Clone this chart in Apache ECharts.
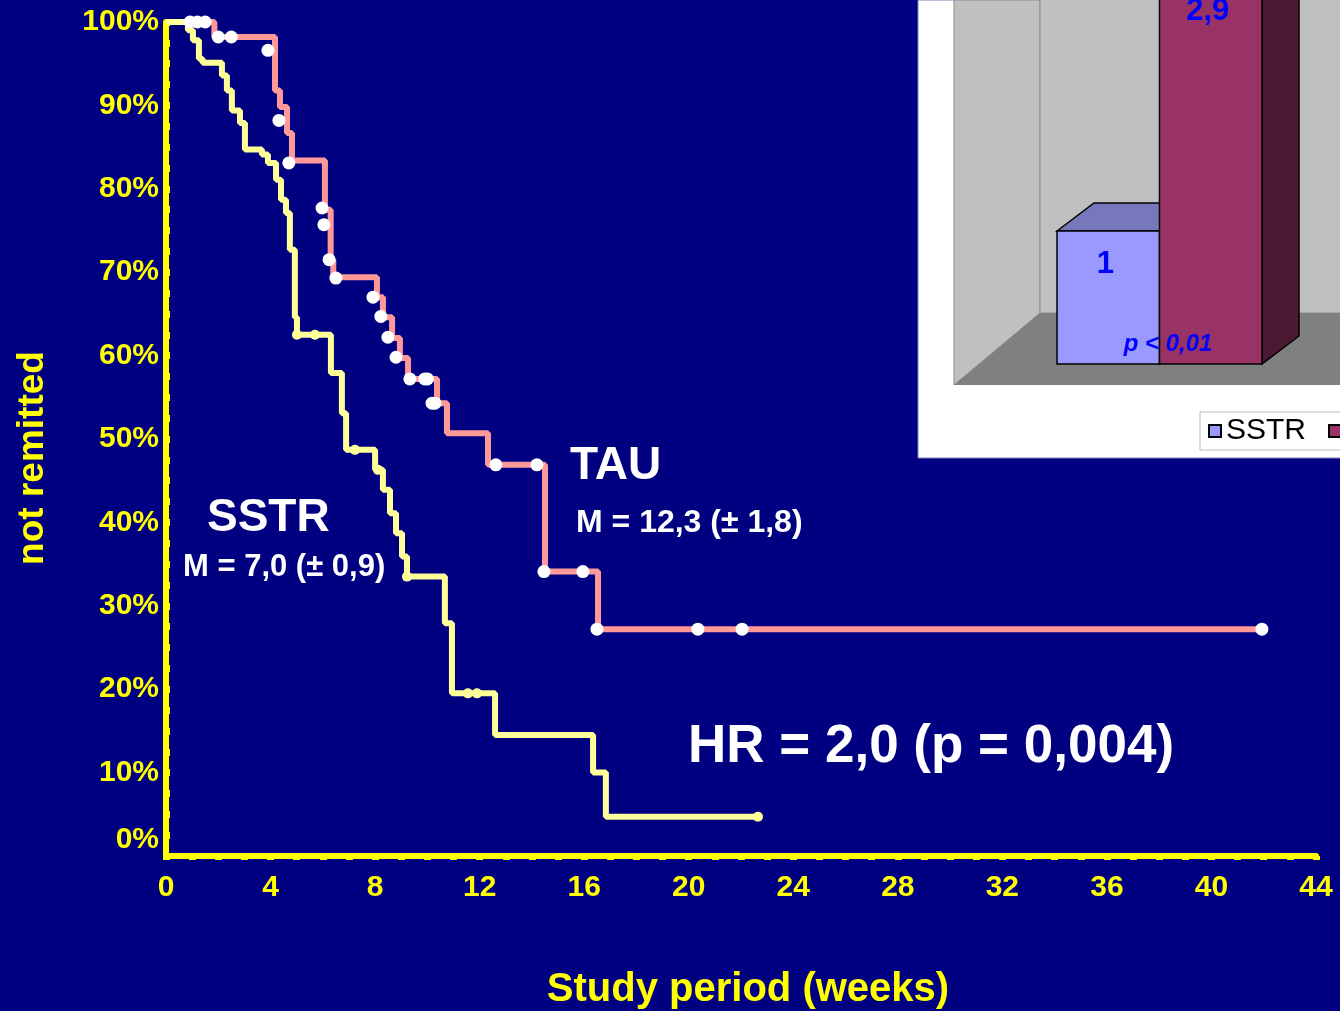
<!DOCTYPE html>
<html><head><meta charset="utf-8">
<script src="https://cdn.jsdelivr.net/npm/echarts@6/dist/echarts.min.js"></script>
<style>html,body{margin:0;padding:0;background:#000080;overflow:hidden;}#c{width:1340px;height:1011px;}</style>
</head><body><div id="c"></div>
<script>
// ---- data ----
const xTickValues = [0,4,8,12,16,20,24,28,32,36,40,44];
const xTickLabels = ['0','4','8','12','16','20','24','28','32','36','40','44'];
const yTickValues = [0,10,20,30,40,50,60,70,80,90,100];
const yTickLabels = ['0%','10%','20%','30%','40%','50%','60%','70%','80%','90%','100%'];

// TAU Kaplan-Meier steps (weeks, % not remitted)
const tauWeeks = [0, 1.85, 4.17, 4.36, 4.63, 4.82, 6.08, 6.3, 6.4, 8.07, 8.3, 8.65, 8.95, 9.26, 10.37, 10.75, 12.32, 14.5, 16.53, 41.93];
const tauPct   = [100, 98.2, 91.8, 89.8, 86.7, 83.4, 77.5, 71.5, 69.4, 67.0, 64.6, 62.1, 59.7, 57.2, 54.3, 50.7, 46.9, 34.1, 27.2, 27.2];
// TAU censored observations
const tauCensWeeks = [0.92, 1.2, 1.5, 2.0, 2.5, 3.9, 4.32, 4.7, 5.97, 6.04, 6.24, 6.5, 7.92, 8.22, 8.49, 8.8, 9.33, 9.9, 10.0, 10.18, 10.29, 12.62, 14.19, 14.46, 15.95, 16.49, 20.35, 22.04, 41.93];
const tauCensPct   = [100, 100, 100, 98.2, 98.2, 96.6, 88.2, 83.1, 77.7, 75.7, 71.5, 69.3, 67.0, 64.7, 62.2, 59.8, 57.2, 57.2, 57.2, 54.3, 54.3, 46.9, 46.9, 34.1, 34.1, 27.2, 27.2, 27.2, 27.2];

// SSTR Kaplan-Meier steps
const sstrWeeks = [0, 0.84, 1.03, 1.26, 1.4, 2.14, 2.33, 2.52, 2.83, 3.02, 3.67, 3.9, 4.21, 4.4, 4.59, 4.74, 4.93, 5.01, 6.31, 6.73, 6.89, 8.0, 8.3, 8.57, 8.8, 9.03, 9.22, 10.67, 10.94, 12.59, 16.34, 16.83, 22.65];
const sstrPct   = [100, 99.0, 97.8, 95.6, 95.1, 93.6, 91.8, 89.4, 87.9, 84.7, 84.1, 83.1, 81.1, 78.7, 77.1, 72.7, 64.6, 62.5, 57.9, 53.1, 48.7, 46.3, 43.9, 41.1, 38.7, 35.9, 33.5, 27.9, 19.5, 14.5, 10.0, 4.7, 4.7];
const sstrCensWeeks = [5.01, 5.7, 7.23, 8.11, 9.22, 11.55, 11.9, 22.65];
const sstrCensPct   = [62.5, 62.5, 48.7, 46.3, 33.5, 19.5, 19.5, 4.7];

// inset: relative remission (hazard) bars
const barCategories = ['SSTR', 'TAU'];
const barValues = [1, 2.9];

// ---- styles ----
const FONT = "'Liberation Sans', Arial, Helvetica, sans-serif";
const YEL = '#FFFF00';
const frontColors = ['#9999FF', '#993366'];
const topColors = ['#7777BB', '#7A2952'];
const sideColors = ['#6B6BB3', '#4B1932'];

const chart = echarts.init(document.getElementById('c'), null, {renderer: 'canvas'});

function renderBox(params, api) {
  const i = api.value(0), v = api.value(1);
  const b = api.coord([i, 0]), t = api.coord([i, v]);
  const w = api.size([1, 0])[0];
  const x0 = b[0] - w / 2, x1 = b[0] + w / 2, y0 = t[1], y1 = b[1];
  const dx = 37, dy = -28;
  const k = i;
  const lbl = String(v).replace('.', ',');
  return {
    type: 'group',
    children: [
      {type: 'polygon', shape: {points: [[x0, y0], [x0 + dx, y0 + dy], [x1 + dx, y0 + dy], [x1, y0]]},
        style: {fill: topColors[k], stroke: '#000', lineWidth: 1.5}},
      {type: 'polygon', shape: {points: [[x1, y0], [x1 + dx, y0 + dy], [x1 + dx, y1 + dy], [x1, y1]]},
        style: {fill: sideColors[k], stroke: '#000', lineWidth: 1.5}},
      {type: 'rect', shape: {x: x0, y: y0, width: w, height: y1 - y0},
        style: {fill: frontColors[k], stroke: '#000', lineWidth: 1.5}},
      {type: 'text', style: {text: lbl, x: (x0 + x1) / 2 - 3, y: y0 + 33, align: 'center', verticalAlign: 'middle',
        font: 'bold 31px ' + FONT, fill: '#0000FF'}}
    ]
  };
}

const option = {
  backgroundColor: '#000080',
  animation: false,
  grid: [
    {left: 166, right: 24, top: 22, bottom: 155, containLabel: false, outerBoundsMode: 'none'},
    {left: 1057, width: 205, top: 18.2, bottom: 647, containLabel: false, outerBoundsMode: 'none'}
  ],
  xAxis: [
    {
      type: 'value', gridIndex: 0, min: 0, max: 44, interval: 4,
      axisLine: {show: true, onZero: false, lineStyle: {color: YEL, width: 6}},
      axisTick: {show: true, inside: false, length: 4, lineStyle: {color: YEL, width: 7}},
      minorTick: {show: true, splitNumber: 4, length: 4, lineStyle: {color: YEL, width: 7}},
      splitLine: {show: false},
      axisLabel: {
        color: YEL, fontWeight: 'bold', fontSize: 30, fontFamily: FONT, margin: 17,
        formatter: v => xTickLabels[xTickValues.indexOf(v)]
      },
      name: 'Study period (weeks)', nameLocation: 'middle', nameGap: 134,
      nameTextStyle: {color: YEL, fontWeight: 'bold', fontSize: 40, fontFamily: FONT, verticalAlign: 'middle', padding: [0, 0, 0, 14]}
    },
    {type: 'category', gridIndex: 1, data: barCategories, show: false, boundaryGap: true}
  ],
  yAxis: [
    {
      type: 'value', gridIndex: 0, min: 0, max: 100, interval: 10,
      axisLine: {show: true, onZero: false, lineStyle: {color: YEL, width: 6}},
      axisTick: {show: true, inside: true, length: 4, lineStyle: {color: YEL, width: 7}},
      minorTick: {show: true, splitNumber: 4, length: 4, lineStyle: {color: YEL, width: 7}},
      splitLine: {show: false},
      axisLabel: {
        color: YEL, fontWeight: 'bold', fontSize: 30, fontFamily: FONT, margin: 7, lineHeight: 32,
        formatter: v => {
          const s = yTickLabels[yTickValues.indexOf(v)];
          return v === 0 ? s + '\n' : s;
        }
      }
    },
    {type: 'value', gridIndex: 1, min: 0, max: 2.6, show: false}
  ],
  legend: {
    data: barCategories, left: 1200, top: 412, width: 400, orient: 'horizontal', icon: 'rect',
    itemWidth: 12, itemHeight: 12, itemGap: 22, padding: [4, 8, 4, 8],
    backgroundColor: '#FFFFFF', borderColor: '#BBBBBB', borderWidth: 1,
    selectedMode: false,
    textStyle: {fontSize: 30, color: '#000', fontFamily: FONT}
  },
  graphic: [
    // inset panel & 3D walls (decoration)
    {type: 'rect', z: 1, z2: 0, shape: {x: 918, y: 0, width: 430, height: 458}, style: {fill: '#FFFFFF', stroke: '#7F7FBF', lineWidth: 1}},
    {type: 'polygon', z: 1, z2: 1, shape: {points: [[954, 0], [1040, 0], [1040, 313], [954, 385]]}, style: {fill: '#C0C0C0', stroke: '#8C8C8C', lineWidth: 1}},
    {type: 'rect', z: 1, z2: 1, shape: {x: 1040, y: -2, width: 310, height: 315}, style: {fill: '#C0C0C0', stroke: '#8C8C8C', lineWidth: 1}},
    {type: 'polygon', z: 1, z2: 2, shape: {points: [[954, 385], [1040, 313], [1345, 313], [1345, 385]]}, style: {fill: '#808080'}},
    {type: 'text', z: 10, style: {text: 'p < 0,01', x: 1168, y: 344, align: 'center', verticalAlign: 'middle', font: 'italic bold 24px ' + FONT, fill: '#0000FF'}},
    // annotations
    {type: 'text', z: 10, style: {text: 'SSTR', x: 207, y: 518, align: 'left', verticalAlign: 'middle', font: 'bold 46px ' + FONT, fill: '#FFFFFF'}},
    {type: 'text', z: 10, style: {text: 'M = 7,0 (± 0,9)', x: 183, y: 567, align: 'left', verticalAlign: 'middle', font: 'bold 31px ' + FONT, fill: '#FFFFFF'}},
    {type: 'text', z: 10, style: {text: 'TAU', x: 570, y: 466, align: 'left', verticalAlign: 'middle', font: 'bold 46px ' + FONT, fill: '#FFFFFF'}},
    {type: 'text', z: 10, style: {text: 'M = 12,3 (± 1,8)', x: 576, y: 523, align: 'left', verticalAlign: 'middle', font: 'bold 32px ' + FONT, fill: '#FFFFFF'}},
    {type: 'text', z: 10, style: {text: 'HR = 2,0 (p = 0,004)', x: 688, y: 747, align: 'left', verticalAlign: 'middle', font: 'bold 53px ' + FONT, fill: '#FFFFFF'}},
    {type: 'text', z: 10, x: 33, y: 458, rotation: Math.PI / 2, style: {text: 'not remitted', x: 0, y: 0, align: 'center', verticalAlign: 'middle', font: 'bold 37px ' + FONT, fill: YEL}}
  ],
  series: [
    {
      name: 'TAU curve', type: 'line', xAxisIndex: 0, yAxisIndex: 0, step: 'end', showSymbol: false, z: 3,
      data: tauWeeks.map((w, i) => [w, tauPct[i]]),
      lineStyle: {color: '#FF9999', width: 6}
    },
    {
      name: 'SSTR curve', type: 'line', xAxisIndex: 0, yAxisIndex: 0, step: 'end', showSymbol: false, z: 4,
      data: sstrWeeks.map((w, i) => [w, sstrPct[i]]),
      lineStyle: {color: '#FFFF99', width: 6}
    },
    {
      name: 'TAU censored', type: 'scatter', xAxisIndex: 0, yAxisIndex: 0, z: 5, symbolSize: 13,
      data: tauCensWeeks.map((w, i) => [w, tauCensPct[i]]),
      itemStyle: {color: '#FFFFFF', opacity: 1}
    },
    {
      name: 'SSTR censored', type: 'scatter', xAxisIndex: 0, yAxisIndex: 0, z: 5, symbolSize: 10,
      data: sstrCensWeeks.map((w, i) => [w, sstrCensPct[i]]),
      itemStyle: {color: '#FFFF99', opacity: 1}
    },
    {
      name: barCategories[0], type: 'custom', xAxisIndex: 1, yAxisIndex: 1, z: 3,
      renderItem: renderBox, data: [[0, barValues[0]]],
      itemStyle: {color: frontColors[0], borderColor: '#000', borderWidth: 1}
    },
    {
      name: barCategories[1], type: 'custom', xAxisIndex: 1, yAxisIndex: 1, z: 4,
      renderItem: renderBox, data: [[1, barValues[1]]],
      itemStyle: {color: frontColors[1], borderColor: '#000', borderWidth: 1}
    }
  ]
};
chart.setOption(option);
</script>
</body></html>
